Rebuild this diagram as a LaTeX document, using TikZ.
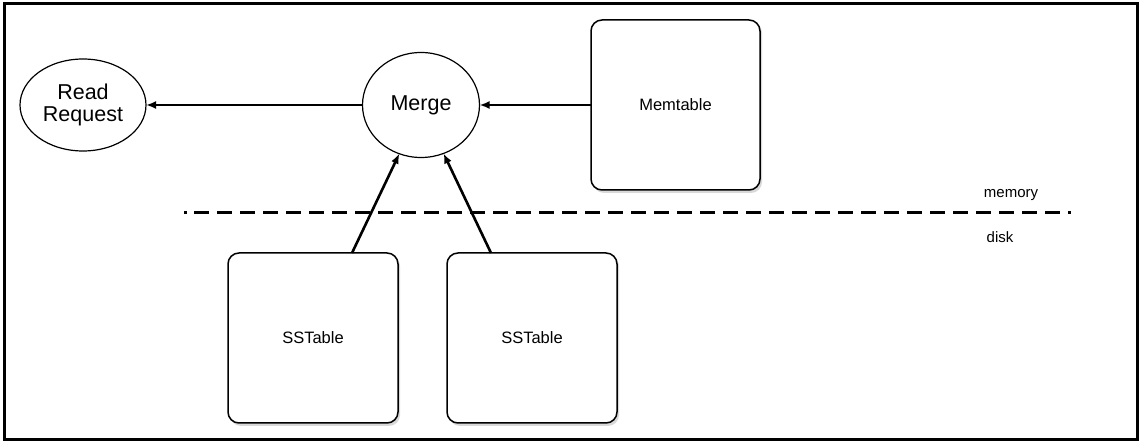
\documentclass[tikz,border=0pt]{standalone}
\usepackage{fontspec}
\setmainfont{Liberation Sans}
\usetikzlibrary{arrows.meta,shapes.geometric,calc}
\tikzset{
  oval/.style={draw, ellipse, line width=1.2pt, inner sep=0pt, outer sep=0pt, align=center, font=\fontsize{21.5}{24}\selectfont},
  tablebox/.style={draw, rounded corners=11pt, line width=1.5pt, minimum width=170pt, minimum height=170pt, inner sep=0pt, outer sep=0pt, font=\fontsize{16.5}{19}\selectfont},
  shade/.style={fill=black!15, draw=none, rounded corners=11pt},
  conn/.style={line width=2.6pt, -{Latex[length=10pt,width=8pt]}},
  divider/.style={line width=3pt, dash pattern=on 15pt off 8pt},
  lbl/.style={font=\fontsize{15}{18}\selectfont}
}
\begin{document}
\begin{tikzpicture}[x=1pt,y=-1pt]
\useasboundingbox (0,0) rectangle (1141,443);
\fill[white] (0,0) rectangle (1141,443);
\draw[line width=3pt] (4,4) rectangle (1137,440);
% shadows
\fill[shade] (593,22) rectangle (762,193);
\fill[shade] (230,255) rectangle (400,426);
\fill[shade] (449,255) rectangle (619,426);
% nodes
\node[oval, minimum width=126pt, minimum height=92pt] (read) at (83,105) {Read\\[-2pt]Request};
\node[oval, minimum width=117pt, minimum height=105pt] (merge) at (421,105) {Merge};
\node[tablebox, fill=white, minimum width=169pt] (mem) at (675.5,105) {Memtable};
\node[tablebox, fill=white] (ss1) at (313,338) {SSTable};
\node[tablebox, fill=white] (ss2) at (532,338) {SSTable};
% divider
\coordinate (dot) at (184,213);
\coordinate (dl) at (194,213);
\coordinate (dr) at (1071,213);
\draw[line width=3pt] (dot) -- ++(2.5,0);
\draw[divider] (dl) -- (dr);
\node[lbl] (memlbl) at (1011,195) {memory};
\node[lbl] (disklbl) at (1000,237) {disk};
% connectors
\draw[conn] (merge.west) -- (read.east);
\draw[conn] (mem.west) -- (merge.east);
\draw[conn] ([xshift=39pt]ss1.north) -- (merge.246);
\draw[conn] ([xshift=-41pt]ss2.north) -- (merge.295);
\end{tikzpicture}
\end{document}
